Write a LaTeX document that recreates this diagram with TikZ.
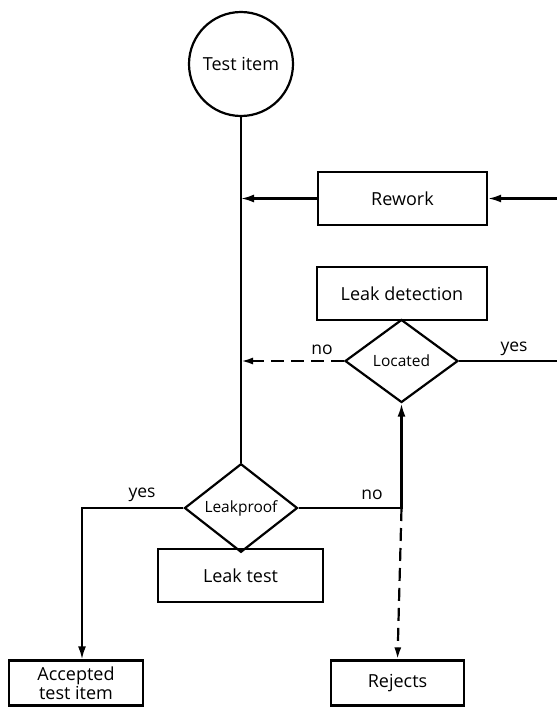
\documentclass[tikz,border=0pt]{standalone}
\usepackage{fontspec}
\setmainfont{Open Sans}
\usetikzlibrary{shapes.geometric,arrows.meta}
\begin{document}
\begin{tikzpicture}[x=1pt,y=-1pt,
  line width=2.2pt,
  box/.style={draw,rectangle,inner sep=0pt,font=\fontsize{18}{19}\selectfont},
  dia/.style={draw,diamond,inner sep=0pt,minimum width=113pt,minimum height=83pt,font=\fontsize{15.5}{16}\selectfont},
  fill arrow/.style={-{Latex[length=13pt,width=8pt]}},
  open arrow/.style={-{Latex[open,length=12pt,width=7pt]}},
  dashline/.style={dash pattern=on 13pt off 7pt},
  lbl/.style={font=\fontsize{17.5}{18}\selectfont,inner sep=0pt}]
\useasboundingbox (0,0) rectangle (557,707);
\node[draw,circle,minimum size=104pt,inner sep=0pt,font=\fontsize{18}{19}\selectfont] (test) at (241,64) {Test item};
\node[box,minimum width=169pt,minimum height=53pt] (rework) at (402.5,198.5) {Rework};
\node[box,minimum width=170pt,minimum height=53pt] (detect) at (402,293.5) {Leak detection};
\node[dia] (located) at (401.5,361) {Located};
\node[dia] (leakproof) at (241,508) {Leakproof};
\node[box,minimum width=165pt,minimum height=53pt] (leaktest) at (240.5,575.5) {Leak test};
\node[box,minimum width=134pt,minimum height=45pt,align=center,font=\fontsize{18}{16}\selectfont] (accepted) at (76,683) {Accepted\\test item};
\node[box,minimum width=133pt,minimum height=45pt] (rejects) at (397.5,683) {Rejects};
\coordinate (vr) at (241,198.5);
\coordinate (vn) at (241,361);
\coordinate (rin) at (557,198.5);
\coordinate (yout) at (557,361);
\coordinate (ja) at (82,508);
\coordinate (jn) at (401.5,508);
\draw (test.south) -- (leakproof.north);
\draw[fill arrow] (rework.west) -- (vr);
\draw[fill arrow] (rin) -- (rework.east);
\draw[open arrow,dashline] (located.west) -- (vn);
\draw (located.east) -- (yout);
\draw[fill arrow] (leakproof.west) -- (ja) -- (ja |- accepted.north);
\draw[fill arrow] (leakproof.east) -- (jn) -- (located.south);
\draw[open arrow,dashline] (jn) -- (rejects.north);
\node[lbl] at (322,350) {no};
\node[lbl] at (514,349) {yes};
\node[lbl] at (142,495) {yes};
\node[lbl] at (372,495) {no};
\end{tikzpicture}
\end{document}
